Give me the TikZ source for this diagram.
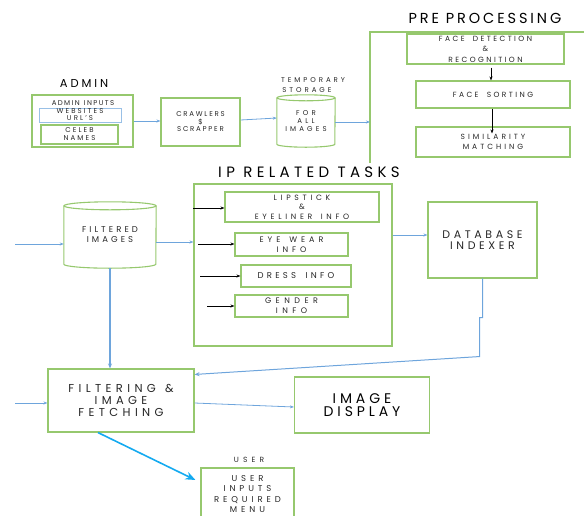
\documentclass[tikz,border=0pt]{standalone}
\usepackage{fontspec}
\setmainfont{Poppins}
\usetikzlibrary{arrows.meta,calc}
\definecolor{gr}{RGB}{150,200,110}
\definecolor{bl}{RGB}{110,165,220}
\definecolor{cy}{RGB}{20,170,240}
\newcommand{\tf}[3]{\fontsize{#1}{#2}\selectfont\addfontfeature{LetterSpace=#3}}
\newcommand{\ws}{\hspace*{1.1em}}
\begin{document}
\begin{tikzpicture}[x=1pt,y=1pt,
  gbox/.style={draw=gr,line width=1.1pt,inner sep=0pt,align=center,text=black!85},
  bbox/.style={draw=bl!70,line width=1pt,inner sep=0pt,align=center,text=black!85},
  plain/.style={inner sep=0pt,align=center,text=black!85},
  barrow/.style={draw=bl,line width=0.8pt,-{Stealth[length=4pt,width=3pt]}},
  bline/.style={draw=bl,line width=1.3pt},
  karrow/.style={draw=black,line width=0.6pt,-{Stealth[length=4pt,width=3pt]}},
  bigarrow/.style={draw=cy,line width=1.6pt,-{Stealth[length=10pt,width=8pt]}}]
\useasboundingbox (0,0) rectangle (584,-515);

% ---------- admin ----------
\node[plain,font=\tf{11.5}{13}{25},text=black] (adminlbl) at (84,-83) {ADMIN};
\node[gbox,minimum width=101pt,minimum height=52pt] (admin) at (82.5,-121) {};
\node[plain,font=\tf{7}{8}{20}] (admininp) at (83,-103) {ADMIN\hspace*{0.6em}INPUTS};
\node[bbox,minimum width=82pt,minimum height=14pt,font=\tf{7}{7}{30}] (web) at (80,-115) {WEBSITES\\URL'S};
\node[gbox,minimum width=77pt,minimum height=19pt,font=\tf{7}{8}{30}] (celeb) at (79.5,-134.5) {CELEB\\NAMES};

\node[gbox,minimum width=79pt,minimum height=48pt,font=\tf{7}{7.5}{25}] (crawl) at (200.5,-122) {CRAWLERS\\\$\\SCRAPPER};

% temporary storage cylinder
\node[plain,minimum width=58pt,minimum height=52pt,font=\tf{7}{8}{45}] (tmp) at (306,-121) {FOR\\ALL\\IMAGES};
\draw[gr,line width=1.1pt] ($(tmp.north)+(0,-3)$) ellipse [x radius=29pt,y radius=3pt];
\draw[gr,line width=1.1pt] ($(tmp.north west)+(0,-3)$) -- ($(tmp.south west)+(0,3)$)
   arc[start angle=180,end angle=360,x radius=29pt,y radius=3pt] -- ($(tmp.north east)+(0,-3)$);
\node[plain,anchor=north west,align=left,font=\tf{7}{9.5}{42}] (tmplbl) at (281,-77.5) {TEMPORARY\\\,STORAGE};

\draw[barrow] (admin.east) -- (crawl.west |- admin.east);
\draw[barrow] ($(crawl.east)+(0,2)$) -- ($(tmp.west)+(0,3)$);

% ---------- pre processing ----------
\coordinate (ppt) at (370,-32);
\coordinate (ppb) at (370,-163);
\coordinate (ppr) at (584,-32);
\draw[gr,line width=1.4pt] (ppb) -- (ppt) -- (ppr);
\node[plain,font=\tf{14.5}{16}{20},text=black] (pplbl) at (485,-18) {PRE PROCESSING};
\node[gbox,minimum width=157pt,minimum height=30pt,font=\tf{7.5}{10.5}{32}] (fd) at (485.5,-49) {FACE\ws{}DETECTION\\\&\\RECOGNITION};
\node[gbox,minimum width=154pt,minimum height=27pt,font=\tf{7.5}{10}{32}] (fs) at (493,-94.5) {FACE\ws{}SORTING};
\node[gbox,minimum width=154pt,minimum height=30pt,font=\tf{7.5}{10}{40}] (sm) at (493,-142) {SIMILARITY\\MATCHING};
\draw[karrow] ($(fd.south)+(5.5,-3)$) -- ($(fs.north)+(-2,0)$);
\draw[karrow] ($(fs.south)+(-1,0)$) -- ($(sm.north)+(-1,-7)$);
\coordinate (a0) at ($(tmp.east)+(0,-1)$);
\draw[barrow] (a0) -- (a0 -| ppt);

% ---------- IP related tasks ----------
\node[plain,font=\tf{15}{17}{29},text=black] (iplbl) at (309,-172) {IP RELATED TASKS};
\node[gbox,minimum width=198pt,minimum height=162pt] (ip) at (293,-265) {};
\node[gbox,minimum width=154pt,minimum height=30pt,font=\tf{7.7}{9.5}{48}] (lip) at (302,-207) {LIPSTICK\\\&\\EYELINER\ws{}INFO};
\node[gbox,minimum width=113pt,minimum height=23pt,font=\tf{8}{10}{50}] (ew) at (291.5,-244.5) {EYE\ws{}WEAR\\INFO};
\node[gbox,minimum width=110pt,minimum height=22pt,font=\tf{8.5}{10}{38}] (dr) at (296,-276) {DRESS\ws{}INFO};
\node[gbox,minimum width=113pt,minimum height=22pt,font=\tf{8}{10}{56}] (ge) at (291.5,-306) {GENDER\\INFO};
\coordinate (k1) at (193,-208);
\coordinate (k2) at (198,-244);
\coordinate (k3) at (200,-276);
\coordinate (k4) at (207,-306);
\draw[karrow] (k1) -- (k1 -| lip.west);
\draw[karrow] (k2) -- (k2 -| ew.west);
\draw[karrow] (k3) -- (k3 -| dr.west);
\draw[karrow] (k4) -- (k4 -| ge.west);

% filtered images cylinder
\node[plain,minimum width=92pt,minimum height=66pt,font=\tf{8.5}{10}{36}] (fi) at (110,-235) {FILTERED\\IMAGES};
\draw[gr,line width=1.1pt] ($(fi.north)+(0,-4)$) ellipse [x radius=46pt,y radius=4pt];
\draw[gr,line width=1.1pt] ($(fi.north west)+(0,-4)$) -- ($(fi.south west)+(0,4)$)
   arc[start angle=180,end angle=360,x radius=46pt,y radius=4pt] -- ($(fi.north east)+(0,-4)$);
\coordinate (fin) at (15,-244);
\draw[barrow] (fin) -- (fin -| fi.west);
\coordinate (a1) at ($(fi.east)+(0,-7)$);
\draw[barrow] (a1) -- (a1 -| ip.west);

% database indexer
\node[gbox,minimum width=109pt,minimum height=76pt,font=\tf{11}{11.5}{33}] (db) at (482.5,-240) {DATABASE\\INDEXER};
\coordinate (a2) at ($(db.west)+(0,5)$);
\draw[barrow] (a2 -| ip.east) -- (a2);

% ---------- filtering ----------
\node[gbox,minimum width=146pt,minimum height=63pt,font=\tf{11.5}{12}{38}] (ff) at (121,-400.5) {FILTERING\hspace*{0.8em}\&\\IMAGE\\FETCHING};
\node[gbox,minimum width=135pt,minimum height=56pt,font=\tf{14}{13.5}{28},text=black] (id) at (362,-405) {IMAGE\\DISPLAY};
\draw[bline,-{Stealth[length=5pt,width=4pt]}] (fi.south) -- (fi.south |- ff.north);
\coordinate (a3) at ($(ff.north east)+(0,-6)$);
\draw[bline,line width=1pt,-{Stealth[length=5pt,width=4pt]}] (db.south) -- ++(0,-39) -- ++(-3,0) -- ++(0,-39) -- (a3);
\coordinate (ffin) at (15,-403);
\draw[barrow] (ffin) -- (ffin -| ff.west);
\draw[barrow] ($(ff.east)+(0,-2.5)$) -- ($(id.west)+(0,-2)$);

% ---------- user ----------
\node[plain,font=\tf{7.5}{9}{55}] (userlbl) at (249,-460) {USER};
\node[gbox,minimum width=93pt,minimum height=52pt,font=\tf{8.5}{10.5}{46}] (um) at (247.5,-494) {USER\\INPUTS\\REQUIRED\\MENU};
\draw[bigarrow] ($(ff.south)+(-23,0)$) -- ($(um.west)+(-5,14)$);
\end{tikzpicture}
\end{document}
